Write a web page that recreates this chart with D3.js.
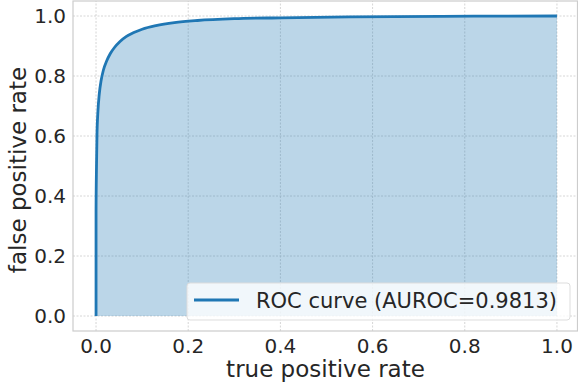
<!DOCTYPE html>
<html>
<head>
<meta charset="utf-8">
<script src="https://cdn.jsdelivr.net/npm/d3@7"></script>
<style>
  body { margin: 0; background: #fff; }
  svg { font-family: "DejaVu Sans", sans-serif; }
</style>
</head>
<body>
<div id="chart"></div>
<script>
// ROC curve points
var fpr = [0, 0, 0.001, 0.002, 0.004, 0.007, 0.011, 0.016, 0.023, 0.031, 0.04, 0.052, 0.066, 0.082, 0.1, 0.13, 0.17, 0.22, 0.3, 0.4, 0.55, 0.75, 1];
var tpr = [0, 0.35, 0.5, 0.6, 0.68, 0.74, 0.785, 0.82, 0.85, 0.875, 0.895, 0.915, 0.932, 0.945, 0.956, 0.968, 0.978, 0.985, 0.991, 0.994, 0.997, 0.999, 1];
var ticks = [0, 0.2, 0.4, 0.6, 0.8, 1.0];
var legendLabel = "ROC curve (AUROC=0.9813)";

var width = 578, height = 385;
var margin = {left: 73, right: 0, top: 1, bottom: 54};

var svg = d3.select("#chart")
  .append("svg")
  .attr("width", width)
  .attr("height", height);

var x = d3.scaleLinear().domain([-0.05, 1.05]).range([margin.left, 580]);
var y = d3.scaleLinear().domain([-0.05, 1.05]).range([height - margin.bottom, margin.top]);

var pts = fpr.map(function(d, i) { return [d, tpr[i]]; });

// grid
svg.append("g")
  .selectAll("line.gx")
  .data(ticks)
  .enter()
  .append("line")
  .attr("x1", function(d) { return x(d); })
  .attr("x2", function(d) { return x(d); })
  .attr("y1", y.range()[0])
  .attr("y2", y.range()[1])
  .attr("stroke", "#cccccc")
  .attr("stroke-width", 0.8)
  .attr("stroke-dasharray", "2,1.5");

svg.append("g")
  .selectAll("line.gy")
  .data(ticks)
  .enter()
  .append("line")
  .attr("y1", function(d) { return y(d); })
  .attr("y2", function(d) { return y(d); })
  .attr("x1", margin.left)
  .attr("x2", width)
  .attr("stroke", "#cccccc")
  .attr("stroke-width", 0.8)
  .attr("stroke-dasharray", "2,1.5");

// filled area
var area = d3.area()
  .x(function(d) { return x(d[0]); })
  .y0(y(0))
  .y1(function(d) { return y(d[1]); })
  .curve(d3.curveMonotoneX);

svg.append("path")
  .datum(pts)
  .attr("d", area)
  .attr("fill", "#1f77b4")
  .attr("fill-opacity", 0.3);

var line = d3.line()
  .x(function(d) { return x(d[0]); })
  .y(function(d) { return y(d[1]); })
  .curve(d3.curveMonotoneX);

svg.append("path")
  .datum(pts)
  .attr("d", line)
  .attr("fill", "none")
  .attr("stroke", "#1f77b4")
  .attr("stroke-width", 2.8);

// spines
svg.append("rect")
  .attr("x", margin.left)
  .attr("y", margin.top)
  .attr("width", width - margin.left - 0.5)
  .attr("height", y.range()[0] - margin.top)
  .attr("fill", "none")
  .attr("stroke", "#cccccc")
  .attr("stroke-width", 1.2);

// tick labels
svg.append("g")
  .selectAll("text")
  .data(ticks)
  .enter()
  .append("text")
  .attr("x", function(d) { return x(d); })
  .attr("y", 353)
  .attr("text-anchor", "middle")
  .attr("font-size", "20px")
  .attr("fill", "#262626")
  .text(function(d) { return d3.format(".1f")(d); });

svg.append("g")
  .selectAll("text")
  .data(ticks)
  .enter()
  .append("text")
  .attr("x", 66)
  .attr("y", function(d) { return y(d); })
  .attr("dy", "0.36em")
  .attr("text-anchor", "end")
  .attr("font-size", "20px")
  .attr("fill", "#262626")
  .text(function(d) { return d3.format(".1f")(d); });

// axis labels
svg.append("text")
  .attr("x", (margin.left + width) / 2)
  .attr("y", 377)
  .attr("text-anchor", "middle")
  .attr("font-size", "23px")
  .attr("fill", "#262626")
  .text("true positive rate");

svg.append("text")
  .attr("transform", "translate(26,170) rotate(-90)")
  .attr("text-anchor", "middle")
  .attr("font-size", "23px")
  .attr("fill", "#262626")
  .text("false positive rate");

// legend
var lg = svg.append("g");
lg.append("rect")
  .attr("x", 187)
  .attr("y", 283)
  .attr("width", 383)
  .attr("height", 37)
  .attr("rx", 3)
  .attr("fill", "#ffffff")
  .attr("fill-opacity", 0.8)
  .attr("stroke", "#dddddd")
  .attr("stroke-width", 1);
lg.append("line")
  .attr("x1", 194)
  .attr("x2", 239)
  .attr("y1", 300)
  .attr("y2", 300)
  .attr("stroke", "#1f77b4")
  .attr("stroke-width", 2.8);
lg.append("text")
  .attr("x", 256)
  .attr("y", 308)
  .attr("font-size", "21px")
  .attr("fill", "#262626")
  .text(legendLabel);
</script>
</body>
</html>
